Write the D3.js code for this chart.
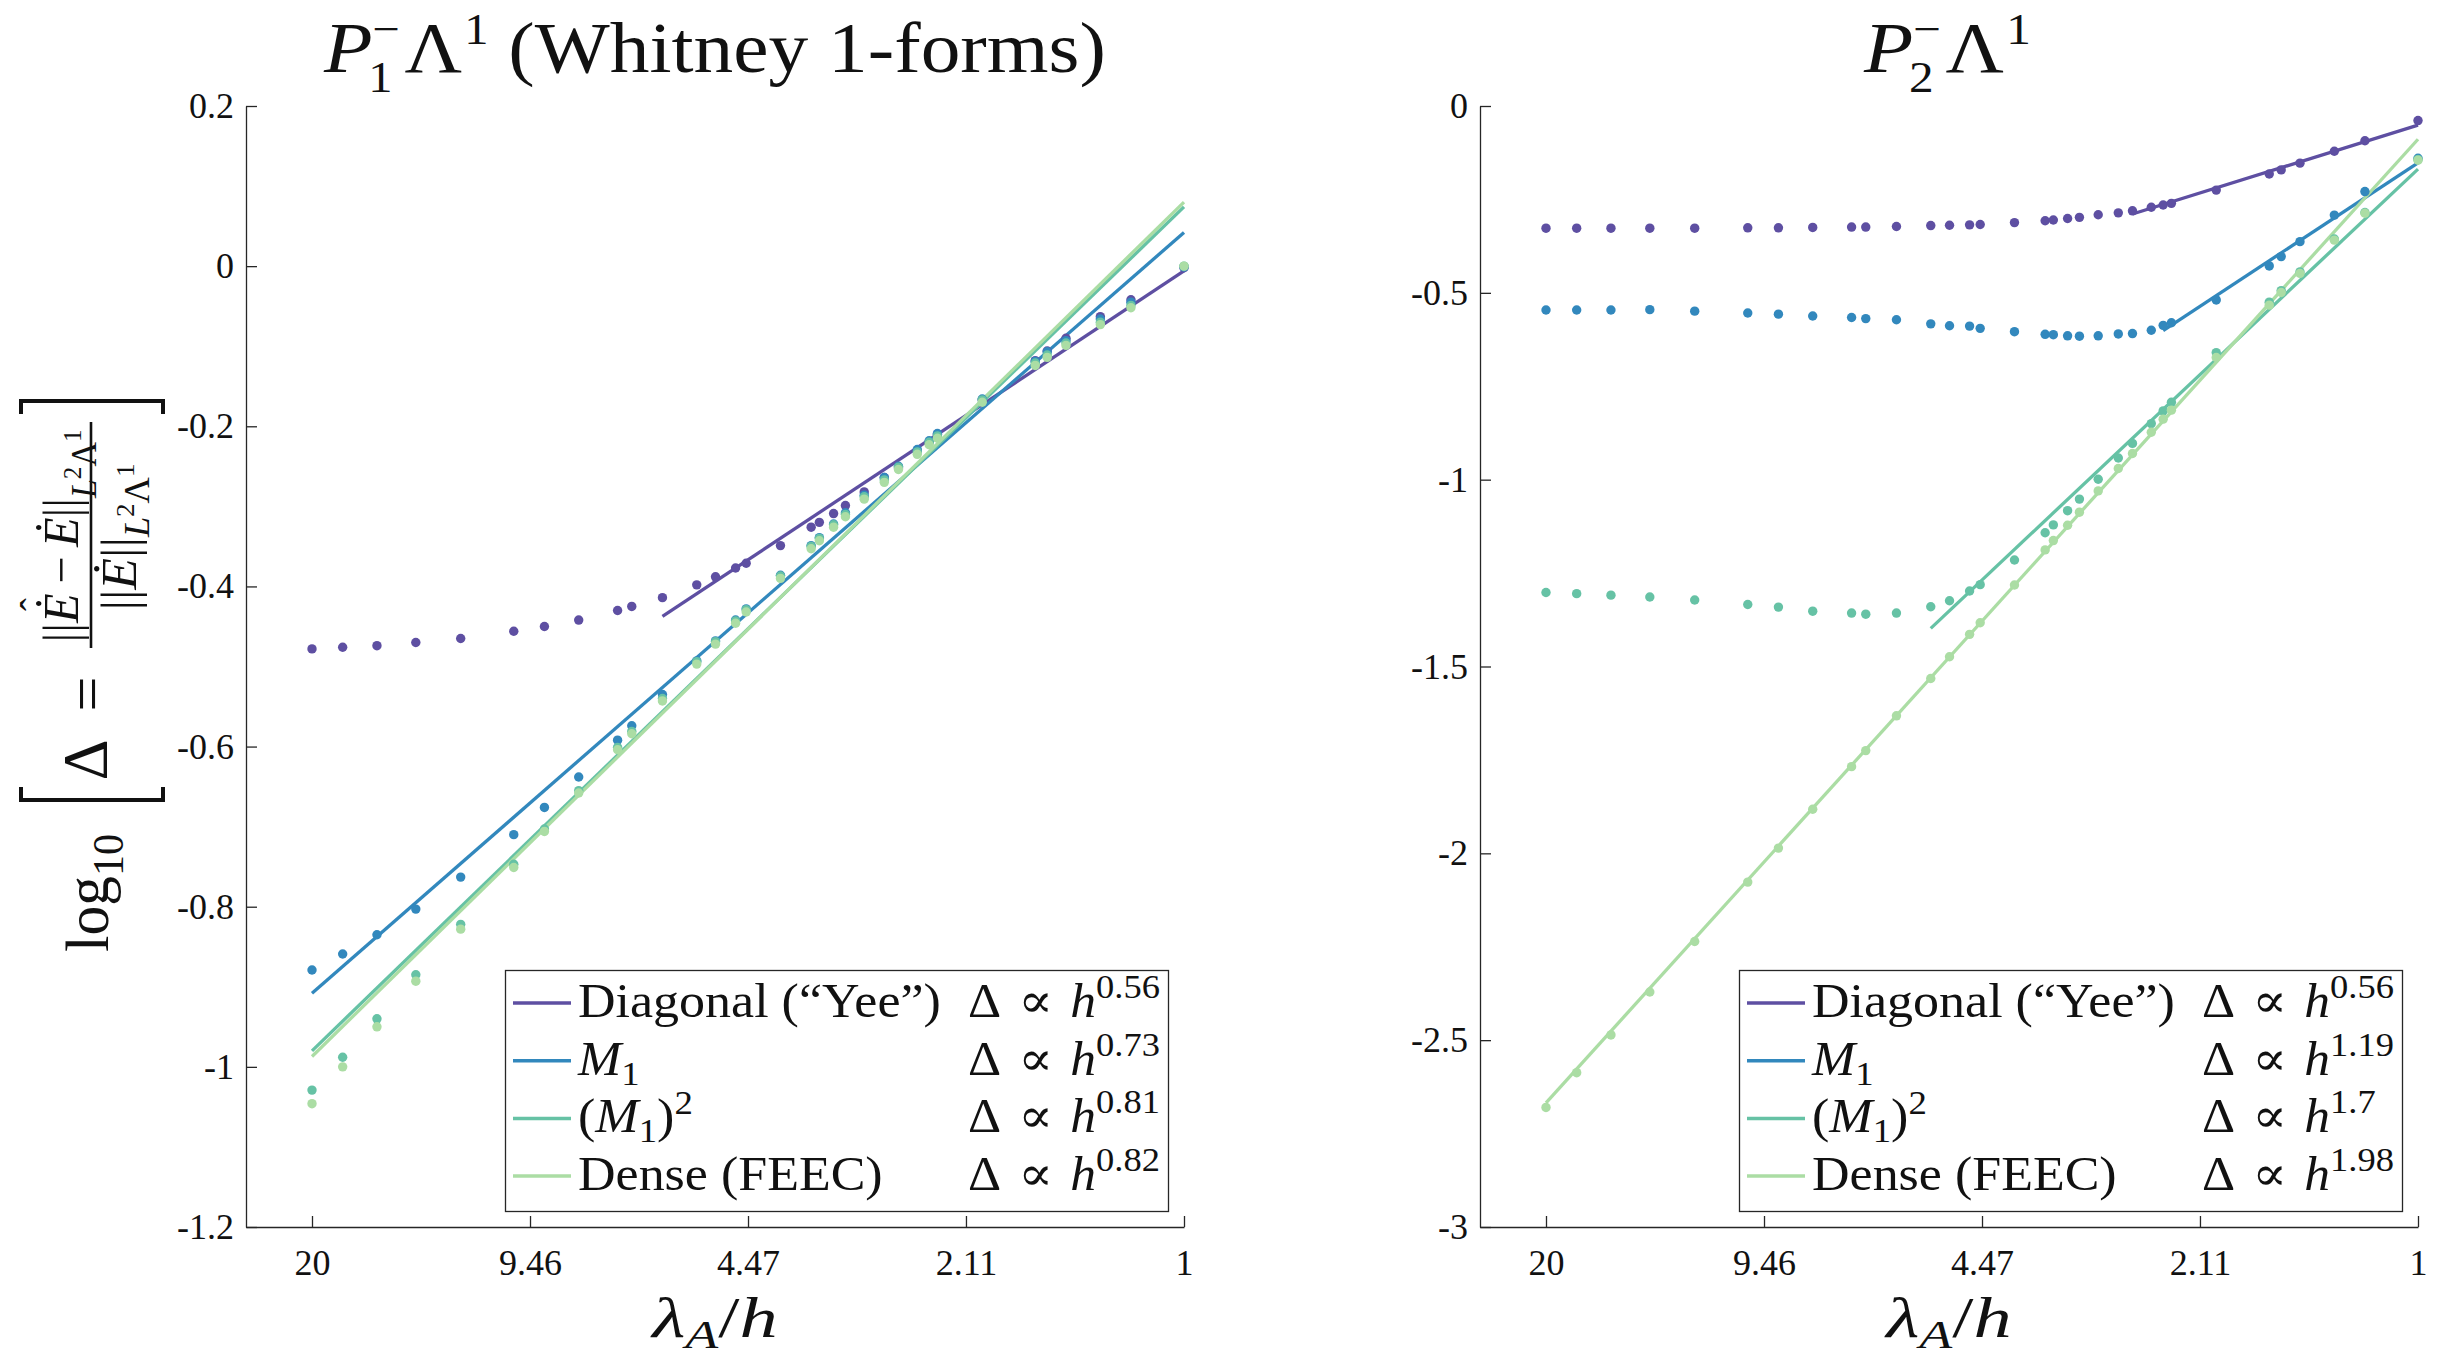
<!DOCTYPE html>
<html><head><meta charset="utf-8">
<script src="https://cdn.jsdelivr.net/npm/d3@7/dist/d3.min.js"></script>
<style>
html,body{margin:0;padding:0;background:#fff;}
svg{display:block;}
text{font-family:"Liberation Serif","DejaVu Serif",serif;fill:#111;}
</style></head><body>
<svg id="chart" width="2442" height="1366"></svg>
<script>
// ---------------- data ----------------
const lambdaOverH = [20, 18, 16, 14, 12, 10, 9, 8, 7, 6.667, 6, 5.333, 5, 4.667, 4.5, 4, 3.6, 3.5, 3.333, 3.2, 3, 2.8, 2.667, 2.5, 2.4, 2.333, 2, 1.667, 1.6, 1.5, 1.333, 1.2, 1];

const leftDiagonal = [-0.478, -0.476, -0.474, -0.470, -0.465, -0.456, -0.450, -0.442, -0.430, -0.425, -0.414, -0.398, -0.388, -0.377, -0.371, -0.349, -0.326, -0.320, -0.309, -0.299, -0.282, -0.264, -0.252, -0.231, -0.220, -0.210, -0.167, -0.118, -0.106, -0.090, -0.063, -0.042, -0.002];
const leftM1 = [-0.879, -0.859, -0.835, -0.803, -0.763, -0.710, -0.676, -0.638, -0.592, -0.574, -0.535, -0.493, -0.468, -0.442, -0.428, -0.386, -0.349, -0.339, -0.322, -0.308, -0.286, -0.264, -0.250, -0.229, -0.218, -0.209, -0.166, -0.119, -0.107, -0.093, -0.066, -0.045, -0.001];
const leftM1Sq = [-1.029, -0.988, -0.940, -0.885, -0.822, -0.747, -0.703, -0.655, -0.601, -0.581, -0.540, -0.494, -0.469, -0.443, -0.429, -0.387, -0.350, -0.340, -0.323, -0.310, -0.288, -0.267, -0.251, -0.232, -0.220, -0.212, -0.167, -0.121, -0.111, -0.096, -0.070, -0.049, 0.000];
const leftDense = [-1.046, -1.000, -0.950, -0.893, -0.828, -0.751, -0.706, -0.658, -0.604, -0.584, -0.543, -0.497, -0.472, -0.446, -0.432, -0.390, -0.353, -0.343, -0.326, -0.313, -0.291, -0.270, -0.254, -0.235, -0.223, -0.215, -0.170, -0.124, -0.114, -0.099, -0.073, -0.052, 0.000];

const rightDiagonal = [-0.327, -0.327, -0.327, -0.327, -0.327, -0.326, -0.326, -0.325, -0.324, -0.324, -0.3225, -0.320, -0.319, -0.318, -0.317, -0.312, -0.307, -0.305, -0.301, -0.298, -0.291, -0.286, -0.2805, -0.271, -0.265, -0.2605, -0.225, -0.182, -0.171, -0.153, -0.121, -0.093, -0.039];
const rightM1 = [-0.546, -0.546, -0.546, -0.545, -0.549, -0.554, -0.557, -0.562, -0.566, -0.569, -0.572, -0.583, -0.588, -0.589, -0.595, -0.604, -0.611, -0.612, -0.615, -0.616, -0.615, -0.610, -0.609, -0.600, -0.587, -0.580, -0.519, -0.428, -0.403, -0.363, -0.292, -0.229, -0.140];
const rightM1Sq = [-1.302, -1.305, -1.309, -1.314, -1.322, -1.334, -1.341, -1.352, -1.357, -1.360, -1.357, -1.340, -1.324, -1.298, -1.281, -1.215, -1.142, -1.121, -1.083, -1.052, -0.999, -0.942, -0.903, -0.850, -0.816, -0.793, -0.660, -0.525, -0.494, -0.444, -0.356, -0.285, -0.143];
const rightDense = [-2.680, -2.587, -2.486, -2.371, -2.236, -2.077, -1.986, -1.882, -1.768, -1.725, -1.632, -1.532, -1.474, -1.414, -1.383, -1.282, -1.188, -1.163, -1.122, -1.087, -1.030, -0.970, -0.930, -0.873, -0.838, -0.814, -0.673, -0.533, -0.499, -0.448, -0.359, -0.287, -0.145];

// fitted power-law lines: start abscissa, value at start, value at lambda/h = 1
const leftFitStartX = [6, 20, 20, 20];
const leftFitStartY = [-0.4375, -0.908, -0.980, -0.987];
const leftFitEndY = [-0.006, 0.042, 0.074, 0.080];
const rightFitStartX = [2.667, 2.4, 5.333, 20];
const rightFitStartY = [-0.289, -0.601, -1.398, -2.668];
const rightFitEndY = [-0.051, -0.152, -0.169, -0.089];

const leftExponents = ["0.56", "0.73", "0.81", "0.82"];
const rightExponents = ["0.56", "1.19", "1.7", "1.98"];

const xTickValues = [20, 9.457, 4.472, 2.115, 1];
const xTickLabels = ["20", "9.46", "4.47", "2.11", "1"];
const leftYTicks = [0.2, 0, -0.2, -0.4, -0.6, -0.8, -1, -1.2];
const leftYTickLabels = ["0.2", "0", "-0.2", "-0.4", "-0.6", "-0.8", "-1", "-1.2"];
const rightYTicks = [0, -0.5, -1, -1.5, -2, -2.5, -3];
const rightYTickLabels = ["0", "-0.5", "-1", "-1.5", "-2", "-2.5", "-3"];

const seriesColors = ["#5E4FA2", "#3288BD", "#66C2A5", "#ABDDA4"];
const legendLabelParts = [
  [{t: "Diagonal (\u201CYee\u201D)"}],
  [{t: "M", i: 1}, {t: "1", off: 10, size: 34}],
  [{t: "("}, {t: "M", i: 1}, {t: "1", off: 10, size: 34}, {t: ")", off: 0}, {t: "2", off: -18, size: 34}],
  [{t: "Dense (FEEC)"}]
];

// ---------------- helpers ----------------
const svg = d3.select("#chart");
const AXIS = "#262626";

function rich(sel, parts, base) {
  let cur = 0;
  parts.forEach(p => {
    const off = p.off !== undefined ? p.off : 0;
    const size = p.size || base;
    const ts = sel.append("tspan").attr("dy", off - cur).style("font-size", size + "px").text(p.t);
    if (p.i) ts.style("font-style", "italic");
    if (p.dx) ts.attr("dx", p.dx);
    cur = off;
  });
}

function measure(str, size, italic) {
  const t = svg.append("text").style("font-size", size + "px").style("font-style", italic ? "italic" : "normal").text(str);
  const w = t.node().getComputedTextLength();
  t.remove();
  return w;
}

function stretchTo(g, textSel, targetW, px) {
  const bb = textSel.node().getBBox();
  const s = targetW / bb.width;
  g.attr("transform", `translate(${px},0) scale(${s},1) translate(${-px},0)`);
  return s;
}
function stretchBy(g, s, px) {
  g.attr("transform", `translate(${px},0) scale(${s},1) translate(${-px},0)`);
}

function drawTitle(sub, tail, x0, x1, baseline) {
  const g = svg.append("g");
  const t = g.append("text").attr("x", 0).attr("y", 0).style("font-size", "72px");
  const wSub = measure(sub, 44, false);
  const wMinus = measure("\u2212", 44, false);
  t.append("tspan").style("font-style", "italic").text("P");
  t.append("tspan").attr("dy", 20).attr("dx", -4).style("font-size", "44px").text(sub);
  t.append("tspan").attr("dy", -48).attr("dx", -wSub + 4).style("font-size", "44px").text("\u2212");
  t.append("tspan").attr("dy", 28).attr("dx", Math.max(0, wSub - wMinus) + 4).style("font-size", "72px").text("\u039B");
  t.append("tspan").attr("dy", -28).attr("dx", 2).style("font-size", "44px").text("1");
  if (tail) t.append("tspan").attr("dy", 28).style("font-size", "72px").text(tail);
  const bb = t.node().getBBox();
  const sx = (x1 - x0) / bb.width;
  g.attr("transform", `translate(${x0 - bb.x * sx},${baseline}) scale(${sx},1)`);
}

function drawLegend(bx, exps) {
  const by = 970, bw = 663, bh = 241;
  const lg = svg.append("g").attr("transform", `translate(${bx},${by})`);
  lg.append("rect").attr("x", 0.5).attr("y", 0.5).attr("width", bw).attr("height", bh)
    .attr("fill", "#fff").attr("stroke", AXIS).attr("stroke-width", 1.3);
  const labelGroups = [], labelTexts = [], expGroups = [], expTexts = [];
  legendLabelParts.forEach((parts, i) => {
    const cy = 33 + i * 57.7;
    lg.append("line").attr("x1", 8).attr("x2", 66).attr("y1", cy).attr("y2", cy)
      .attr("stroke", seriesColors[i]).attr("stroke-width", 3.5);
    const g1 = lg.append("g");
    const t = g1.append("text").attr("x", 73).attr("y", cy + 14).style("font-size", "48px");
    rich(t, parts, 48);
    labelGroups.push(g1); labelTexts.push(t);
    const g2 = lg.append("g");
    const t2 = g2.append("text").attr("x", 463).attr("y", cy + 14).style("font-size", "48px");
    rich(t2, [{t: "\u0394\u2004\u221D\u2004"}, {t: "h", i: 1}, {t: exps[i], off: -19, size: 34}], 48);
    expGroups.push(g2); expTexts.push(t2);
  });
  const s1 = 363 / labelTexts[0].node().getBBox().width;
  labelGroups.forEach(g => stretchBy(g, s1, 73));
  const s2 = 192 / expTexts[0].node().getBBox().width;
  expGroups.forEach(g => stretchBy(g, s2, 463));
}

function drawPanel(p) {
  const g = svg.append("g").attr("transform", `translate(${p.left},${p.top})`);
  const x = d3.scaleLog().domain([25.09, 1]).range([0, p.width]);
  const y = d3.scaleLinear().domain(p.yDomain).range([p.height, 0]);

  const xa = d3.axisBottom(x).tickValues(xTickValues).tickFormat((d, i) => xTickLabels[i])
    .tickSize(-11).tickSizeOuter(0).tickPadding(22);
  const ya = d3.axisLeft(y).tickValues(p.yTicks).tickFormat((d, i) => p.yLabels[i])
    .tickSize(-11).tickSizeOuter(0).tickPadding(12);
  const gx = g.append("g").attr("transform", `translate(0,${p.height})`).call(xa);
  const gy = g.append("g").call(ya);
  [gx, gy].forEach(a => {
    a.selectAll("path,line").attr("stroke", AXIS).attr("stroke-width", 1.3);
    a.selectAll("text").attr("fill", AXIS).style("font-size", "36px")
      .style("font-family", '"Liberation Serif","DejaVu Serif",serif');
  });

  const line = d3.line().x(d => x(d[0])).y(d => y(d[1]));
  p.series.forEach((s, k) => {
    g.append("path").attr("d", line([[p.fitStart[k], p.fitStartVal[k]], [1, p.fitEndVal[k]]]))
      .attr("fill", "none").attr("stroke", seriesColors[k]).attr("stroke-width", 3.3);
  });
  p.series.forEach((s, k) => {
    g.append("g").selectAll("circle").data(lambdaOverH.map((l, i) => [l, s[i]])).join("circle")
      .attr("cx", d => x(d[0])).attr("cy", d => y(d[1])).attr("r", 4.7).attr("fill", seriesColors[k]);
  });

  const cx = p.left + p.width / 2;
  const xg = svg.append("g");
  const xl = xg.append("text").attr("x", cx).attr("y", 1337)
    .attr("text-anchor", "middle").style("font-size", "58px");
  rich(xl, [{t: "\u03BB", i: 1}, {t: "A", i: 1, off: 11, size: 41}, {t: "/", off: 0}, {t: "h", i: 1}], 58);
  stretchTo(xg, xl, 128, cx);
}

// ---------------- panels ----------------
drawPanel({left: 246, top: 106, width: 938, height: 1121, yDomain: [-1.2, 0.2],
  yTicks: leftYTicks, yLabels: leftYTickLabels,
  series: [leftDiagonal, leftM1, leftM1Sq, leftDense],
  fitStart: leftFitStartX, fitStartVal: leftFitStartY, fitEndVal: leftFitEndY});
drawPanel({left: 1480, top: 106, width: 938, height: 1121, yDomain: [-3, 0],
  yTicks: rightYTicks, yLabels: rightYTickLabels,
  series: [rightDiagonal, rightM1, rightM1Sq, rightDense],
  fitStart: rightFitStartX, fitStartVal: rightFitStartY, fitEndVal: rightFitEndY});

drawLegend(505, leftExponents);
drawLegend(1739, rightExponents);

drawTitle("1", " (Whitney 1-forms)", 323, 1106, 72);
drawTitle("2", "", 1863, 2031, 72);

// ---------------- y label (rotated) ----------------
const yl = svg.append("g").attr("transform", "rotate(-90)");
const gLog = yl.append("g");
const tLog = gLog.append("text").attr("x", -893).attr("y", 108).attr("text-anchor", "middle").style("font-size", "62px");
rich(tLog, [{t: "log"}, {t: "10", off: 15, size: 44}], 62);
stretchTo(gLog, tLog, 118, -893);
yl.append("path").attr("d", "M-787,21H-800V163H-787").attr("fill", "none").attr("stroke", "#111").attr("stroke-width", 4);
yl.append("path").attr("d", "M-414,21H-401V163H-414").attr("fill", "none").attr("stroke", "#111").attr("stroke-width", 4);
yl.append("text").attr("x", -760).attr("y", 107).attr("text-anchor", "middle").style("font-size", "64px").text("\u0394");
yl.append("text").attr("x", -694).attr("y", 108).attr("text-anchor", "middle").style("font-size", "62px").text("=");

const gNum = yl.append("g");
const num = gNum.append("text").attr("x", -536).attr("y", 78).attr("text-anchor", "middle").style("font-size", "50px");
rich(num, [{t: "||"}, {t: "\u0116", i: 1}, {t: "\u2009\u2212\u2009"}, {t: "\u0116", i: 1}, {t: "||"},
  {t: "L", i: 1, off: 18, size: 35}, {t: "2", off: 3, size: 26}, {t: "\u039B", off: 18, size: 35}, {t: "1", off: 3, size: 26}], 50);
try {
  const ext = num.node().getExtentOfChar(2);
  gNum.append("text").attr("x", ext.x + ext.width / 2 + 4).attr("y", 48).attr("text-anchor", "middle")
    .style("font-size", "40px").text("\u02C6");
} catch (e) {}
stretchTo(gNum, num, 213, -536);

yl.append("line").attr("x1", -648).attr("x2", -422).attr("y1", 91).attr("y2", 91).attr("stroke", "#111").attr("stroke-width", 2.6);

const gDen = yl.append("g");
const den = gDen.append("text").attr("x", -537).attr("y", 136).attr("text-anchor", "middle").style("font-size", "50px");
rich(den, [{t: "||"}, {t: "\u0116", i: 1}, {t: "||"},
  {t: "L", i: 1, off: 13, size: 35}, {t: "2", off: -2, size: 26}, {t: "\u039B", off: 13, size: 35}, {t: "1", off: -2, size: 26}], 50);
stretchTo(gDen, den, 147, -537);
</script>
</body></html>
